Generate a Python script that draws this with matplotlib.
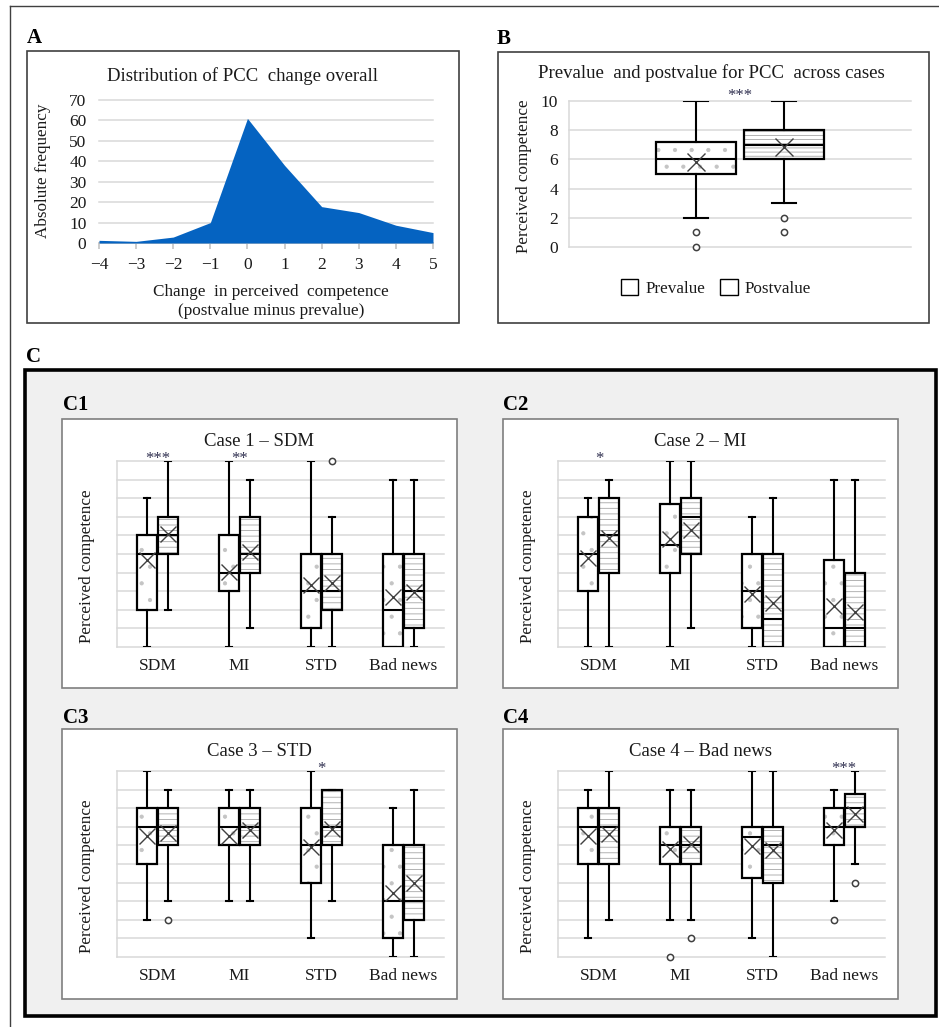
import matplotlib
matplotlib.use("Agg")
import matplotlib.pyplot as plt
from matplotlib.patches import Rectangle, PathPatch, Patch
from matplotlib.lines import Line2D

plt.rcParams['font.family'] = ['Liberation Serif', 'DejaVu Serif']
plt.rcParams['hatch.linewidth'] = 0.6

# ---------------- data ----------------
# Panel A
change_values = [-4, -3, -2, -1, 0, 1, 2, 3, 4, 5]
change_freq = [1.3, 0.8, 2.9, 10, 61, 38, 17.8, 14.9, 8.7, 5.1]

# Panel B  (whislo, q1, med, q3, whishi)
b_pre_stats = (2, 5, 6, 7.22, 10)
b_pre_mean = 5.85
b_pre_fliers = [1, 0]
b_post_stats = (3, 6, 7, 8, 10)
b_post_mean = 6.83
b_post_fliers = [2, 1]

# Panel C
categories = ['SDM', 'MI', 'STD', 'Bad news']
case_titles = ['Case 1 \u2013 SDM', 'Case 2 \u2013 MI', 'Case 3 \u2013 STD', 'Case 4 \u2013 Bad news']

# (whislo, q1, med, q3, whishi) per category
c1_pre = [(0, 2, 5, 6, 8), (0, 3, 4, 6, 10), (0, 1, 3, 5, 10), (0, 0, 2, 5, 9)]
c1_pre_means = [4.68, 4.05, 3.34, 2.7]
c1_pre_fliers = [[], [], [], []]
c1_post = [(2, 5, 6, 7, 10), (1, 4, 5, 7, 9), (0, 2, 3, 5, 7), (0, 1, 3, 5, 9)]
c1_post_means = [6.07, 5.1, 3.46, 2.98]
c1_post_fliers = [[], [], [10], []]
c1_sig = ['***', '**', '', '']

c2_pre = [(0, 3, 5, 7, 8), (0, 4, 5.5, 7.7, 10), (0, 1, 3, 5, 7), (0, 0, 1, 4.7, 9)]
c2_pre_means = [4.8, 5.8, 2.84, 2.23]
c2_pre_fliers = [[], [], [], []]
c2_post = [(0, 4, 6, 8, 9), (1, 5, 7, 8, 10), (0, 0, 1.5, 5, 8), (0, 0, 1, 4, 9)]
c2_post_means = [5.87, 6.29, 2.36, 1.9]
c2_post_fliers = [[], [], [], []]
c2_sig = ['*', '', '', '']

c3_pre = [(2, 5, 7, 8, 10), (3, 6, 7, 8, 9), (1, 4, 6, 8, 10), (0, 1, 3, 6, 8)]
c3_pre_means = [6.5, 6.5, 5.93, 3.43]
c3_pre_fliers = [[], [], [], []]
c3_post = [(3, 6, 7, 8, 9), (3, 6, 7, 8, 9), (3, 6, 7, 9, 9), (0, 2, 3, 6, 9)]
c3_post_means = [6.68, 6.82, 6.9, 4.0]
c3_post_fliers = [[2], [], [], []]
c3_sig = ['', '', '*', '']

c4_pre = [(1, 5, 7, 8, 9), (2, 5, 6, 7, 9), (1, 4.27, 6.46, 7, 10), (3, 6, 7, 8, 9)]
c4_pre_means = [6.5, 5.79, 5.98, 6.82]
c4_pre_fliers = [[], [0], [], [2]]
c4_post = [(2, 5, 7, 8, 10), (2, 5, 6, 7, 9), (0, 4, 6, 7, 10), (5, 7, 8, 8.79, 10)]
c4_post_means = [6.59, 6.05, 5.75, 7.71]
c4_post_fliers = [[], [1], [], [4]]
c4_sig = ['', '', '', '***']

# ---------------- layout helpers ----------------
W, H = 939, 1027
fig = plt.figure(figsize=(W / 100, H / 100), dpi=100)
fig.patch.set_facecolor('white')


def rect(x0, y0, x1, y1):
    return [x0 / W, 1 - y1 / H, (x1 - x0) / W, (y1 - y0) / H]


def frame(x0, y0, x1, y1, ec, lw, fc='none', z=-1):
    r = Rectangle((x0 / W, 1 - y1 / H), (x1 - x0) / W, (y1 - y0) / H,
                  transform=fig.transFigure, facecolor=fc, edgecolor=ec,
                  linewidth=lw, zorder=z)
    fig.add_artist(r)


def ftext(x, y, s, **kw):
    fig.text(x / W, 1 - y / H, s, **kw)


TXT = '#1a1a1a'
GRID = '#d9d9d9'
HATCH_LINE = '#a6a6a6'
HATCH_DOT = '#c4c4c4'
STAR = '#2f2f4f'

# outer frame lines
fig.add_artist(Line2D([10 / W, 10 / W], [1 - 5.5 / H, 0], transform=fig.transFigure,
                      color='#404040', lw=1.0, zorder=5))
fig.add_artist(Line2D([10 / W, 1], [1 - 5.5 / H, 1 - 5.5 / H], transform=fig.transFigure,
                      color='#404040', lw=1.0, zorder=5))

# panel frames
frame(27, 51, 459, 323, '#404040', 1.2, fc='white', z=-1)
frame(498, 52, 929, 323, '#404040', 1.2, fc='white', z=-1)
frame(25, 370, 936, 1016, 'black', 2.6, fc='#f0f0f0', z=-2)
sub_boxes = [(62, 419, 457, 688), (503, 419, 898, 688), (62, 729, 457, 999), (503, 729, 898, 999)]
for (x0, y0, x1, y1) in sub_boxes:
    frame(x0, y0, x1, y1, '#7f7f7f', 1.2, fc='white', z=-1)

# panel labels
lab_kw = dict(fontsize=15, fontweight='bold', color='black', ha='left', va='center')
ftext(27, 38, 'A', **lab_kw)
ftext(497, 39, 'B', **lab_kw)
ftext(26, 357, 'C', **lab_kw)
ftext(63, 405, 'C1', **lab_kw)
ftext(503, 405, 'C2', **lab_kw)
ftext(63, 718, 'C3', **lab_kw)
ftext(503, 718, 'C4', **lab_kw)

ylab_kw = dict(fontsize=12.3, color=TXT, rotation=90, ha='center', va='center')

# ---------------- Panel A ----------------
axA = fig.add_axes(rect(99, 100, 433, 243))
axA.set_facecolor('none')
axA.fill_between(change_values, 0, change_freq, color='#0563C1', lw=0, zorder=3)
axA.set_xlim(-4, 5)
axA.set_ylim(0, 70)
axA.set_yticks(range(0, 71, 10))
axA.set_xticks(change_values)
axA.grid(axis='y', color=GRID, lw=1.1)
axA.set_axisbelow(True)
for s in ['top', 'right', 'left']:
    axA.spines[s].set_visible(False)
axA.spines['bottom'].set_color('#bfbfbf')
axA.spines['bottom'].set_linewidth(1.1)
axA.tick_params(axis='y', length=0, pad=9, labelsize=12.5, labelcolor=TXT)
axA.tick_params(axis='x', length=4, color='#bfbfbf', width=1.1, pad=6, labelsize=12.5, labelcolor=TXT)
for gl in axA.get_ygridlines():
    gl.set_clip_on(False)
ftext(43, 171, 'Absolute frequency', **ylab_kw)
ftext(243, 76, 'Distribution of PCC  change overall', fontsize=13.5, color=TXT, ha='center', va='center')
ftext(271, 292, 'Change  in perceived  competence', fontsize=12.3, color=TXT, ha='center', va='center')
ftext(271, 311, '(postvalue minus prevalue)', fontsize=12.3, color=TXT, ha='center', va='center')


# ---------------- box drawing ----------------
def make_stats(summ, means, fliers):
    return [dict(whislo=s[0], q1=s[1], med=s[2], q3=s[3], whishi=s[4], mean=m, fliers=f)
            for s, m, f in zip(summ, means, fliers)]


def draw_phase(ax, stats, positions, width, capw, hatch, hcolor, msize):
    bp = ax.bxp(stats, positions=positions, widths=width, capwidths=capw,
                patch_artist=True, showmeans=True, manage_ticks=False,
                boxprops=dict(facecolor='white', edgecolor=hcolor, hatch=hatch, linewidth=0),
                whiskerprops=dict(color='black', lw=1.5),
                capprops=dict(color='black', lw=1.5),
                medianprops=dict(color='black', lw=1.5),
                meanprops=dict(marker='x', markeredgecolor='#404040', markersize=msize, mew=1.0),
                flierprops=dict(marker='o', markerfacecolor='white', markeredgecolor='#404040',
                                markersize=4.5, mew=1.1))
    for b in bp['boxes']:
        ax.add_patch(PathPatch(b.get_path(), facecolor='none', edgecolor='black',
                               lw=1.6, zorder=b.get_zorder() + 0.05))
    for ln in bp['fliers']:
        ln.set_clip_on(False)


# ---------------- Panel B ----------------
axB = fig.add_axes(rect(569, 101, 911, 247))
axB.set_facecolor('none')
draw_phase(axB, make_stats([b_pre_stats], [b_pre_mean], [b_pre_fliers]), [-0.129], 0.234, 0.07,
           '.', HATCH_DOT, 13)
draw_phase(axB, make_stats([b_post_stats], [b_post_mean], [b_post_fliers]), [0.129], 0.234, 0.07,
           '----', HATCH_LINE, 13)
axB.set_xlim(-0.5, 0.5)
axB.set_ylim(0, 10)
axB.set_yticks(range(0, 11, 2))
axB.set_xticks([])
axB.grid(axis='y', color=GRID, lw=1.1)
axB.set_axisbelow(True)
for s in ['top', 'right', 'bottom']:
    axB.spines[s].set_visible(False)
axB.spines['left'].set_color(GRID)
axB.spines['left'].set_linewidth(1.1)
axB.tick_params(axis='y', length=0, pad=8, labelsize=12.5, labelcolor=TXT)
for gl in axB.get_ygridlines():
    gl.set_clip_on(False)
ftext(524, 176, 'Perceived competence', **ylab_kw)
axB.text(0, 10.1, '***', ha='center', va='baseline', fontsize=12, color=STAR)
ftext(711, 73, 'Prevalue  and postvalue for PCC  across cases', fontsize=13.5, color=TXT,
      ha='center', va='center')
handles = [Patch(facecolor='white', edgecolor='black', lw=1.0, label='Prevalue'),
           Patch(facecolor='white', edgecolor='black', lw=1.0, label='Postvalue')]
fig.legend(handles=handles, loc='center', bbox_to_anchor=(716 / W, 1 - 288 / H),
           ncol=2, frameon=False, fontsize=12.3, handlelength=1.0, handleheight=1.0,
           handletextpad=0.4, columnspacing=0.9, labelcolor=TXT)

# ---------------- Panel C ----------------
c_pre_all = [c1_pre, c2_pre, c3_pre, c4_pre]
c_pre_means_all = [c1_pre_means, c2_pre_means, c3_pre_means, c4_pre_means]
c_pre_fliers_all = [c1_pre_fliers, c2_pre_fliers, c3_pre_fliers, c4_pre_fliers]
c_post_all = [c1_post, c2_post, c3_post, c4_post]
c_post_means_all = [c1_post_means, c2_post_means, c3_post_means, c4_post_means]
c_post_fliers_all = [c1_post_fliers, c2_post_fliers, c3_post_fliers, c4_post_fliers]
c_sig_all = [c1_sig, c2_sig, c3_sig, c4_sig]

plot_rects = [(117, 461, 444, 647), (558, 461, 885, 647), (117, 771, 444, 957), (558, 771, 885, 957)]
centers = list(range(len(categories)))

for k in range(4):
    x0, y0, x1, y1 = plot_rects[k]
    ax = fig.add_axes(rect(x0, y0, x1, y1))
    ax.set_facecolor('none')
    draw_phase(ax, make_stats(c_pre_all[k], c_pre_means_all[k], c_pre_fliers_all[k]),
               [c - 0.128 for c in centers], 0.245, 0.075, '.', HATCH_DOT, 11)
    draw_phase(ax, make_stats(c_post_all[k], c_post_means_all[k], c_post_fliers_all[k]),
               [c + 0.128 for c in centers], 0.245, 0.075, '---', HATCH_LINE, 11)
    ax.set_xlim(-0.5, 3.5)
    ax.set_ylim(0, 10)
    ax.set_yticks(range(0, 11))
    ax.set_yticklabels([])
    ax.set_xticks(centers)
    ax.set_xticklabels(categories)
    ax.grid(axis='y', color=GRID, lw=1.1)
    ax.set_axisbelow(True)
    for s in ['top', 'right', 'bottom']:
        ax.spines[s].set_visible(False)
    ax.spines['left'].set_color(GRID)
    ax.spines['left'].set_linewidth(1.1)
    ax.tick_params(axis='both', length=0)
    ax.tick_params(axis='x', pad=8, labelsize=12.5, labelcolor=TXT)
    for gl in ax.get_ygridlines():
        gl.set_clip_on(False)
    ftext(87, (y0 + y1) / 2 + 12, 'Perceived competence', **ylab_kw) if k in (0, 2) else \
        ftext(528, (y0 + y1) / 2 + 12, 'Perceived competence', **ylab_kw)
    for c, s in zip(centers, c_sig_all[k]):
        if s:
            ax.text(c, 9.9, s, ha='center', va='baseline', fontsize=12, color=STAR, clip_on=False)
    bx0, by0, bx1, by1 = sub_boxes[k]
    ftext((bx0 + bx1) / 2, by0 + 22, case_titles[k], fontsize=13.5, color=TXT,
          ha='center', va='center')

fig.savefig('out.png', dpi=100, facecolor='white')
